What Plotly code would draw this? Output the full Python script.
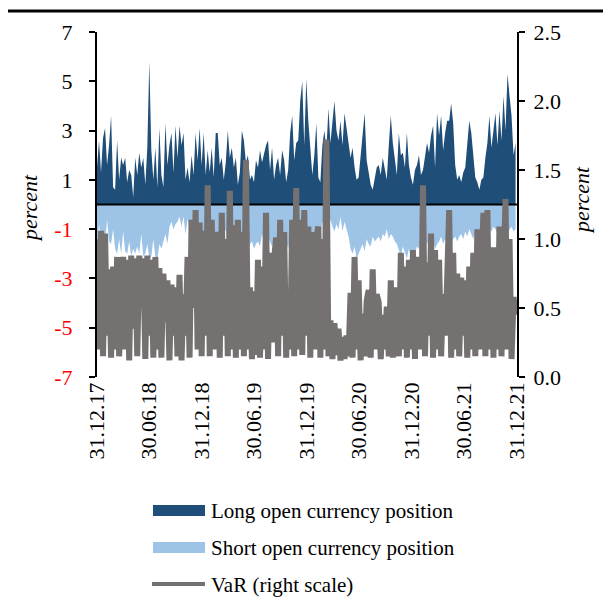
import pandas as pd
import plotly.graph_objects as go

# Weekly observations from 31.12.2017
dates = pd.date_range("2017-12-31", periods=209, freq="7D")

long_pos = [
    1.5, 2.6, 1.3, 2.7, 3.1, 1.6, 2.4, 3.6, 0.7, 0.6,
    2.6, 1.0, 1.9, 1.6, 1.9, 0.9, 1.4, 1.2, 0.3, 1.9,
    1.2, 2.1, 1.5, 1.9, 0.8, 2.3, 5.8, 2.2, 1.0, 2.3,
    0.7, 3.1, 1.2, 0.7, 3.3, 1.6, 2.4, 2.9, 1.3, 3.2,
    1.9, 3.2, 2.4, 2.9, 1.0, 1.5, 0.9, 2.0, 1.2, 2.9,
    1.8, 3.1, 1.6, 2.9, 1.2, 2.2, 1.3, 2.3, 1.1, 2.9,
    2.9, 1.6, 1.9, 1.0, 1.7, 3.0, 1.9, 2.3, 1.5, 1.9,
    0.8, 1.3, 3.0, 2.6, 1.7, 2.0, 1.0, 1.2, 0.9, 1.8,
    1.5, 2.2, 1.7, 2.1, 2.4, 2.6, 1.4, 2.3, 1.0, 1.6,
    1.9, 1.2, 2.2, 1.8, 0.9, 1.4, 2.9, 3.6, 1.8, 2.5,
    2.6, 4.2, 5.0, 2.4, 5.1, 3.4, 2.4, 1.2, 2.0, 3.3,
    1.1, 0.9, 2.4, 3.0, 2.2, 3.9, 2.5, 3.3, 4.2, 3.0,
    2.6, 3.4, 2.4, 3.7, 3.0, 2.5, 1.9, 2.3, 1.5, 1.0,
    1.1, 2.0, 3.0, 3.7, 1.8, 1.3, 0.8, 0.6, 1.1, 1.5,
    1.6, 1.2, 1.9, 1.4, 1.0, 2.4, 3.6, 2.5, 1.9, 1.2,
    2.9, 2.0, 2.1, 1.5, 2.9, 1.6, 1.1, 0.8, 1.4, 1.6,
    2.0, 1.2, 1.4, 1.9, 2.5, 2.1, 2.8, 3.2, 1.5, 3.7,
    2.8, 3.6, 2.2, 2.9, 3.4, 3.4, 4.1, 3.3, 1.6, 1.0,
    1.2, 0.9, 1.3, 1.5, 2.6, 3.4, 2.9, 1.9, 1.1, 0.9,
    0.6, 1.0, 1.1, 1.9, 2.5, 3.6, 2.3, 3.0, 3.7, 2.4,
    3.8, 2.6, 4.4, 3.0, 5.3, 4.4, 3.6, 2.0, 2.5,
]

short_pos = [
    -1.7, -0.8, -1.6, -1.2, -1.7, -0.6, -1.5, -1.6, -1.0, -1.8,
    -2.0, -1.4, -2.0, -1.1, -1.9, -2.0, -1.5, -2.1, -1.8, -2.0,
    -1.7, -2.0, -1.2, -2.1, -2.0, -1.6, -2.2, -2.1, -1.4, -2.1,
    -2.2, -1.6, -1.8, -1.5, -1.2, -1.6, -0.9, -0.7, -1.0, -0.8,
    -0.7, -0.5, -0.9, -0.5, -1.2, -0.6, -1.0, -0.7, -1.1, -0.9,
    -1.4, -1.7, -1.2, -1.6, -1.8, -1.3, -1.7, -1.5, -1.2, -1.6,
    -1.4, -1.2, -1.5, -1.3, -1.0, -1.5, -1.6, -1.2, -1.7, -1.4,
    -1.7, -1.5, -1.8, -2.0, -1.3, -1.9, -1.6, -1.5, -1.8, -1.6,
    -1.5, -1.7, -1.2, -1.6, -1.9, -1.3, -1.5, -1.7, -1.4, -1.5,
    -1.4, -1.2, -1.6, -1.3, -1.5, -1.8, -1.2, -1.6, -1.7, -1.4,
    -1.5, -1.3, -1.6, -1.4, -1.2, -1.5, -1.0, -1.4, -1.3, -1.1,
    -0.9, -1.2, -0.7, -0.9, -0.8, -1.0, -0.6, -0.9, -1.1, -0.8,
    -1.0, -0.5, -1.1, -0.7, -1.0, -1.3, -1.8, -2.0, -1.7, -2.2,
    -2.0, -1.8, -1.6, -1.9, -1.4, -1.6, -1.7, -1.3, -1.5, -1.4,
    -1.3, -1.5, -1.2, -1.3, -1.0, -1.4, -1.2, -1.3, -1.5, -1.6,
    -1.9, -2.1, -1.7, -2.0, -2.2, -1.8, -2.1, -1.9, -2.0, -1.7,
    -1.8, -1.6, -1.7, -1.9, -1.5, -1.7, -1.6, -1.4, -1.8, -1.6,
    -1.5, -1.3, -1.6, -1.4, -1.5, -1.2, -1.6, -1.4, -1.3, -1.5,
    -1.3, -1.2, -1.4, -1.1, -1.3, -1.0, -1.2, -1.4, -1.1, -1.2,
    -1.0, -1.2, -0.9, -1.1, -0.8, -1.0, -1.1, -0.9, -1.0, -1.2,
    -0.9, -1.1, -1.0, -0.8, -1.2, -1.0, -0.9, -1.1, -1.0,
]

var_right = [
    1.00, 0.20, 1.06, 0.15, 1.04, 0.30, 0.78, 0.14, 0.80, 0.20,
    0.87, 0.15, 0.60, 0.87, 0.20, 0.85, 0.12, 0.88, 0.35, 0.86,
    0.15, 0.88, 0.50, 0.86, 0.13, 0.88, 0.30, 0.85, 0.14, 0.87,
    0.20, 0.79, 0.14, 0.75, 0.40, 0.70, 0.12, 0.67, 0.30, 0.65,
    0.15, 0.74, 0.12, 0.60, 0.30, 0.87, 0.14, 1.14, 0.50, 1.21,
    0.20, 1.12, 0.15, 1.06, 0.30, 1.39, 0.15, 1.14, 0.20, 0.98,
    1.05, 0.14, 1.19, 0.30, 1.00, 0.15, 1.35, 0.20, 1.10, 0.14,
    1.14, 0.20, 1.05, 0.15, 1.57, 0.20, 0.65, 0.13, 0.62, 0.16,
    0.85, 0.14, 0.80, 0.20, 1.19, 0.13, 0.90, 0.25, 0.85, 1.01,
    0.15, 1.14, 0.30, 1.05, 0.14, 0.60, 0.20, 1.14, 0.15, 1.37,
    0.20, 1.14, 0.16, 1.21, 0.30, 1.09, 0.14, 1.05, 0.20, 1.01,
    1.09, 0.14, 1.00, 0.20, 1.72, 0.15, 0.41, 0.13, 0.39, 0.16,
    0.35, 0.12, 0.29, 0.13, 0.30, 0.15, 0.61, 0.14, 0.87, 0.20,
    0.70, 0.12, 0.46, 0.15, 0.55, 0.63, 0.14, 0.78, 0.20, 0.60,
    0.54, 0.13, 0.45, 0.20, 0.51, 0.15, 0.70, 0.14, 0.40, 0.65,
    0.15, 0.90, 0.20, 0.80, 0.14, 0.85, 0.20, 0.92, 0.13, 0.85,
    0.85, 0.20, 1.39, 0.15, 0.83, 0.30, 1.04, 0.14, 0.92, 0.20,
    0.85, 0.15, 0.60, 0.30, 0.70, 1.21, 0.14, 0.90, 0.20, 0.75,
    0.15, 0.72, 0.30, 0.70, 0.14, 0.80, 0.20, 0.90, 0.15, 1.07,
    0.20, 0.95, 1.19, 0.15, 1.21, 0.20, 0.94, 0.14, 0.94, 0.20,
    1.09, 0.15, 0.90, 1.29, 0.20, 1.00, 0.13, 0.58, 0.45,
]

left_ticks = [-7, -5, -3, -1, 1, 3, 5, 7]
right_ticks = [0.0, 0.5, 1.0, 1.5, 2.0, 2.5]
x_tick_dates = ["2017-12-31", "2018-06-30", "2018-12-31", "2019-06-30",
                "2019-12-31", "2020-06-30", "2020-12-31", "2021-06-30", "2021-12-31"]
x_tick_labels = ["31.12.17", "30.06.18", "31.12.18", "30.06.19",
                 "31.12.19", "30.06.20", "31.12.20", "30.06.21", "31.12.21"]
legend_names = ["Long open currency position", "Short open currency position", "VaR (right scale)"]

DARK = "#1F4E79"
LIGHT = "#9DC3E6"
GRAY = "#767171"
FONT = "Times New Roman, Liberation Serif, serif"

# page offset of the figure div (default body margin)
OFF = 8
W, H = 611 - OFF, 612 - OFF
PL, PR, PT, PB = 97, 517, 32, 377  # plot area in page pixels

left_text = [f'<span style="color:#FF0000">{t}</span>' if t < 0 else str(t) for t in left_ticks]

fig = go.Figure()
fig.add_trace(go.Scatter(x=dates, y=long_pos, fill="tozeroy", mode="lines",
                         line=dict(width=0, color=DARK), fillcolor=DARK, name=legend_names[0]))
fig.add_trace(go.Scatter(x=dates, y=short_pos, fill="tozeroy", mode="lines",
                         line=dict(width=0, color=LIGHT), fillcolor=LIGHT, name=legend_names[1]))
fig.add_trace(go.Scatter(x=[x_tick_dates[0], x_tick_dates[-1]], y=[0, 0], mode="lines",
                         line=dict(width=2, color="black"), showlegend=False))
fig.add_trace(go.Scatter(x=dates, y=var_right, mode="lines", yaxis="y2",
                         line=dict(width=6, color=GRAY), name=legend_names[2]))

fig.update_layout(
    width=W, height=H,
    margin=dict(l=PL - OFF, r=611 - PR, t=PT - OFF, b=612 - PB, autoexpand=False),
    paper_bgcolor="white", plot_bgcolor="white",
    showlegend=False,
    font=dict(family=FONT, size=22, color="black"),
    xaxis=dict(type="date", range=[x_tick_dates[0], x_tick_dates[-1]],
               tickmode="array", tickvals=x_tick_dates, ticktext=x_tick_labels,
               tickangle=-90, showgrid=False, zeroline=False, showline=False,
               ticks="", tickfont=dict(size=22), automargin=False),
    yaxis=dict(range=[-7, 7], tickmode="array", tickvals=left_ticks, ticktext=left_text,
               showgrid=False, zeroline=False, showline=True, linecolor="black", linewidth=2,
               ticks="outside", ticklen=6, tickwidth=2, tickcolor="black",
               ticklabelstandoff=12, tickfont=dict(size=22), automargin=False),
    yaxis2=dict(range=[0, 2.5], overlaying="y", side="right", tickmode="array",
                tickvals=right_ticks, ticktext=[f"{v:.1f}" for v in right_ticks],
                showgrid=False, zeroline=False, showline=True, linecolor="black", linewidth=2,
                ticks="outside", ticklen=6, tickwidth=2, tickcolor="black",
                ticklabelstandoff=4, tickfont=dict(size=22), automargin=False),
)

def px_x(x):
    return (x - PL) / (PR - PL)

def px_y(y):
    return (PB - y) / (PB - PT)

shapes = [
    dict(type="line", xref="paper", yref="paper", x0=px_x(0), x1=px_x(611), y0=px_y(11), y1=px_y(11),
         line=dict(color="black", width=3)),
    dict(type="rect", xref="paper", yref="paper", x0=px_x(153), x1=px_x(205), y0=px_y(516), y1=px_y(505),
         fillcolor=DARK, line=dict(width=0)),
    dict(type="rect", xref="paper", yref="paper", x0=px_x(153), x1=px_x(205), y0=px_y(553), y1=px_y(542),
         fillcolor=LIGHT, line=dict(width=0)),
    dict(type="line", xref="paper", yref="paper", x0=px_x(152), x1=px_x(205), y0=px_y(584), y1=px_y(584),
         line=dict(color=GRAY, width=4)),
]
annotations = [
    dict(text=legend_names[0], xref="paper", yref="paper", x=px_x(209), y=px_y(511),
         xanchor="left", yanchor="middle", showarrow=False, font=dict(size=21)),
    dict(text=legend_names[1], xref="paper", yref="paper", x=px_x(209), y=px_y(548),
         xanchor="left", yanchor="middle", showarrow=False, font=dict(size=21)),
    dict(text=legend_names[2], xref="paper", yref="paper", x=px_x(209), y=px_y(585),
         xanchor="left", yanchor="middle", showarrow=False, font=dict(size=21)),
    dict(text="<i>percent</i>", xref="paper", yref="paper", x=px_x(29), y=px_y(208),
         xanchor="center", yanchor="middle", textangle=-90, showarrow=False, font=dict(size=22)),
    dict(text="<i>percent</i>", xref="paper", yref="paper", x=px_x(581), y=px_y(200),
         xanchor="center", yanchor="middle", textangle=-90, showarrow=False, font=dict(size=22)),
]
fig.update_layout(shapes=shapes, annotations=annotations)

fig.write_html("out.html")
